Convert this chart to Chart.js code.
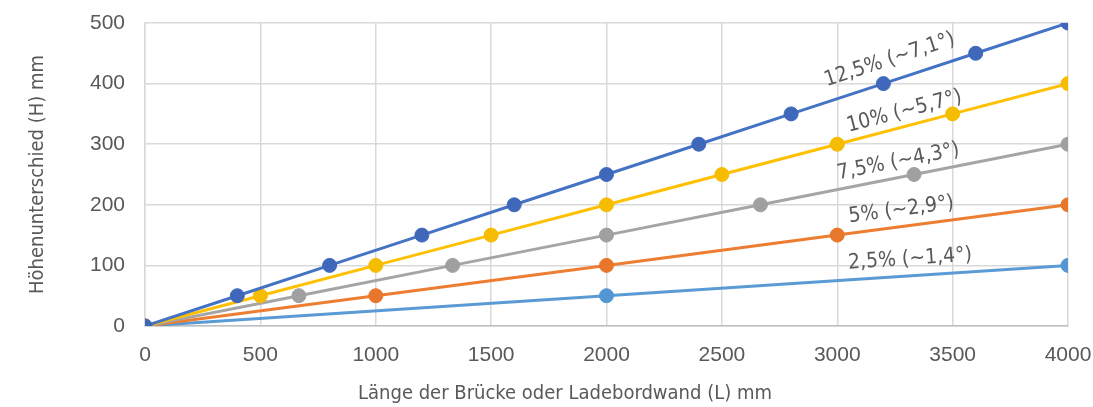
<!DOCTYPE html>
<html>
<head>
<meta charset="utf-8">
<script src="https://cdn.jsdelivr.net/npm/chart.js@4/dist/chart.umd.min.js"></script>
<style>
  html, body { margin: 0; padding: 0; background: #fff; }
  #wrap { width: 1093px; height: 407px; }
</style>
</head>
<body>
<div id="wrap"><canvas id="mycanvas" width="1093" height="407"></canvas></div>
<script>
// values
var names = ["12,5% (~7,1°)", "10% (~5,7°)", "7,5% (~4,3°)", "5% (~2,9°)", "2,5% (~1,4°)"];

var x125 = [0, 400, 800, 1200, 1600, 2000, 2400, 2800, 3200, 3600, 4000];
var y125 = [0, 50, 100, 150, 200, 250, 300, 350, 400, 450, 500];

var x10 = [0, 500, 1000, 1500, 2000, 2500, 3000, 3500, 4000];
var y10 = [0, 50, 100, 150, 200, 250, 300, 350, 400];

var x75 = [0, 667, 1333, 2000, 2667, 3333, 4000];
var y75 = [0, 50, 100, 150, 200, 250, 300];

var x5 = [0, 1000, 2000, 3000, 4000];
var y5 = [0, 50, 100, 150, 200];

var x25 = [0, 2000, 4000];
var y25 = [0, 50, 100];

var xTitle = "Länge der Brücke oder Ladebordwand (L) mm";
var yTitle = "Höhenunterschied (H) mm";

var colors = ["#4472C4", "#FFC000", "#A5A5A5", "#ED7D31", "#5B9BD5"];
var pointColors = ["#3F68BA", "#F5BC00", "#A0A0A0", "#E8762B", "#5496D3"];

function pts(xs, ys) {
	var out = [];
	for (var i in xs) {
		out.push({x: xs[i], y: ys[i]});
	}
	return out;
}

var series = [pts(x125, y125), pts(x10, y10), pts(x75, y75), pts(x5, y5), pts(x25, y25)];

// where along each line (L in mm) the label sits, and its gap above the line in px
var labelAt = [3255, 3307, 3278, 3287, 3320];
var labelGap = [10, 4, 5, 6, 6];

var labelFont = "21px 'Liberation Sans Narrow', 'DejaVu Sans Condensed', sans-serif";

var labelPlugin = {
	id: "lineLabels",
	afterDatasetsDraw: function(chart) {
		var ctx = chart.ctx;
		var xs = chart.scales.x, ys = chart.scales.y;
		ctx.save();
		ctx.fillStyle = "#595959";
		ctx.font = labelFont;
		ctx.textAlign = "center";
		ctx.textBaseline = "bottom";
		for (var i = 0; i < names.length; i++) {
			var d = series[i];
			var last = d[d.length - 1];
			var slope = last.y / last.x;
			var px = xs.getPixelForValue(labelAt[i]);
			var py = ys.getPixelForValue(labelAt[i] * slope);
			var ang = Math.atan2(ys.getPixelForValue(last.y) - ys.getPixelForValue(0),
				xs.getPixelForValue(last.x) - xs.getPixelForValue(0));
			ctx.save();
			ctx.translate(px, py);
			ctx.rotate(ang);
			ctx.fillText(names[i], 0, -labelGap[i]);
			ctx.restore();
		}
		// x axis title, sits a little left of the plot centre like the original
		ctx.font = "20px 'Liberation Sans Narrow', 'DejaVu Sans Condensed', sans-serif";
		ctx.textBaseline = "middle";
		ctx.fillText(xTitle, 565, 394);
		ctx.restore();
	}
};

var datasets = [];
for (var i = 0; i < series.length; i++) {
	datasets.push({
		label: names[i],
		data: series[i],
		showLine: true,
		fill: false,
		borderColor: colors[i],
		backgroundColor: pointColors[i],
		pointBackgroundColor: pointColors[i],
		pointBorderColor: pointColors[i],
		borderWidth: 3,
		pointRadius: 7,
		pointBorderWidth: 1
	});
}

var tickFont = {family: "'Liberation Sans', Arial, sans-serif", size: 21};
var titleFont = {family: "'Liberation Sans Narrow', 'DejaVu Sans Condensed', sans-serif", size: 20};

new Chart(document.getElementById("mycanvas"), {
	type: "scatter",
	data: {datasets: datasets},
	options: {
		responsive: false,
		animation: false,
		layout: {padding: {left: 22, right: 25, top: 23, bottom: 0}},
		plugins: {legend: {display: false}, tooltip: {enabled: false}},
		scales: {
			x: {
				type: "linear",
				min: 0, max: 4000,
				ticks: {stepSize: 500, color: "#595959", font: tickFont, padding: 17, maxRotation: 0,
					callback: function(v) { return String(v); }},
				grid: {color: "#D9D9D9", lineWidth: 1.5, drawTicks: false},
				border: {color: "#BFBFBF", width: 1.5},
				afterFit: function(s) { s.height = 81; s.paddingLeft = 0; s.paddingRight = 0; }
			},
			y: {
				min: 0, max: 500,
				ticks: {stepSize: 100, color: "#595959", font: tickFont, padding: 20,
					callback: function(v) { return String(v); }},
				grid: {color: "#D9D9D9", lineWidth: 1.5, drawTicks: false},
				border: {color: "#D9D9D9", width: 1.5},
				title: {display: true, text: yTitle, color: "#595959", font: titleFont, padding: {top: 4, bottom: 18}},
				afterFit: function(s) { s.width = 123; s.paddingTop = 0; s.paddingBottom = 0; }
			}
		}
	},
	plugins: [labelPlugin]
});
</script>
</body>
</html>
